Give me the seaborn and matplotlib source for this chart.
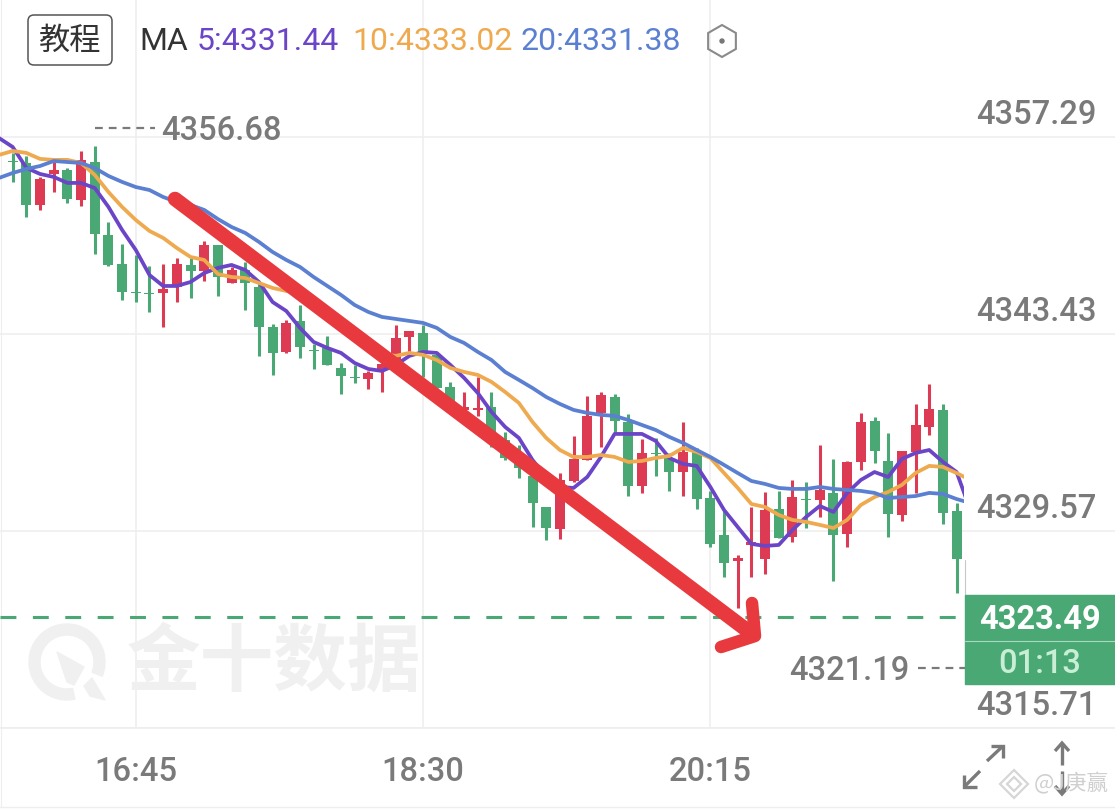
import numpy as np
import pandas as pd
import matplotlib
matplotlib.use("Agg")
import matplotlib.pyplot as plt
import matplotlib.patches as mpatches
from matplotlib.transforms import Affine2D, ScaledTranslation
import seaborn as sns

opens = [4355.61,4355.47,4352.51,4354.69,4354.97,4352.86,4355.54,4350.40,4348.36,4346.39,
         4346.32,4346.32,4346.74,4348.29,4347.87,4349.69,4347.02,4347.94,4346.74,4343.93,
         4342.17,4344.35,4342.31,4342.45,4341.04,4340.41,4340.27,4340.90,4341.39,4343.22,
         4343.50,4341.96,4339.70,4338.09,4338.09,4338.30,4335.98,4334.78,4333.44,4331.26,
         4329.71,4333.09,4334.57,4337.88,4339.00,4337.24,4332.74,4335.06,4334.71,4333.72,
         4335.13,4331.89,4329.29,4327.47,4328.59,4327.61,4331.12,4329.15,4331.82,4331.75,
         4332.25,4329.36,4334.43,4337.31,4334.50,4330.70,4335.13,4336.89,4338.09,4330.98]
closes = [4355.54,4352.51,4354.34,4354.97,4352.93,4355.68,4350.47,4348.29,4346.39,4346.32,
          4346.25,4346.60,4348.36,4347.87,4349.69,4347.44,4347.94,4347.02,4343.93,4342.10,
          4344.21,4342.52,4342.24,4341.25,4340.48,4340.34,4340.69,4341.32,4343.15,4343.64,
          4342.17,4339.63,4338.65,4338.30,4338.23,4336.47,4334.71,4334.01,4331.54,4329.78,
          4333.16,4334.64,4337.67,4339.14,4337.31,4332.74,4335.06,4334.99,4333.72,4335.13,
          4331.82,4328.66,4327.32,4327.68,4328.80,4331.05,4329.08,4331.96,4331.75,4332.46,
          4329.29,4334.43,4337.24,4335.20,4330.77,4335.20,4337.03,4338.16,4330.84,4327.61]
highs = [4356.17,4355.96,4354.48,4355.54,4355.12,4356.31,4356.68,4351.31,4349.76,4348.99,
         4348.22,4348.36,4348.78,4348.78,4349.98,4349.69,4348.15,4348.50,4347.02,4344.14,
         4344.42,4345.47,4342.73,4343.29,4341.39,4341.25,4340.83,4341.39,4344.07,4343.64,
         4344.07,4342.10,4340.06,4339.35,4340.41,4339.35,4336.54,4335.62,4334.08,4331.26,
         4333.65,4336.26,4339.07,4339.35,4339.21,4337.81,4336.05,4336.12,4335.06,4337.24,
         4335.41,4332.39,4331.05,4327.89,4331.26,4332.32,4332.39,4333.16,4333.02,4335.62,
         4334.64,4334.50,4337.88,4337.60,4336.47,4335.20,4338.51,4339.91,4338.51,4331.54]
lows = [4354.13,4351.66,4352.16,4353.42,4352.65,4352.44,4349.06,4348.22,4345.82,4345.68,
        4344.98,4343.93,4345.68,4345.96,4347.16,4346.11,4347.02,4345.12,4341.89,4340.55,
        4342.10,4341.74,4340.97,4341.25,4339.21,4339.98,4339.56,4339.35,4341.39,4342.10,
        4340.41,4339.63,4338.23,4337.95,4337.67,4335.48,4334.57,4333.30,4329.85,4328.94,
        4329.01,4333.02,4334.57,4335.48,4336.47,4332.04,4332.25,4333.44,4332.39,4332.04,
        4331.12,4328.45,4326.34,4324.16,4326.34,4326.55,4329.08,4328.80,4329.78,4330.56,
        4326.06,4328.45,4333.86,4334.36,4329.15,4330.28,4332.25,4336.33,4330.07,4325.21]

# moving averages: bar -1 (just off the left edge) to bar 70 (just past the last candle)
ma5 = [4357.22,4356.59,4355.12,4354.69,4354.48,4354.06,4354.06,4353.70,4352.37,4350.75,
       4349.34,4347.58,4346.81,4346.81,4347.09,4347.72,4348.08,4348.29,4347.94,4347.09,
       4345.68,4345.05,4343.86,4342.87,4342.45,4342.10,4341.39,4340.97,4340.83,4341.25,
       4341.89,4342.17,4342.10,4341.25,4340.34,4339.28,4337.95,4336.89,4336.12,4334.57,
       4333.37,4332.67,4332.60,4333.37,4334.78,4336.40,4336.40,4336.40,4335.91,4334.71,
       4334.29,4334.15,4332.67,4331.05,4329.85,4328.66,4328.52,4328.59,4329.64,4330.56,
       4331.33,4330.91,4332.25,4333.16,4333.72,4333.37,4334.64,4335.06,4335.27,4334.43,
       4333.72,4331.05]
ma10 = [4356.03,4356.31,4356.17,4355.75,4355.68,4355.68,4355.46,4354.62,4353.42,4352.37,
        4351.45,4350.68,4350.19,4349.48,4348.85,4348.64,4347.65,4347.44,4347.37,4347.02,
        4346.67,4346.46,4346.25,4345.54,4344.77,4344.00,4343.22,4342.59,4342.03,4341.89,
        4342.10,4341.96,4341.60,4341.04,4340.76,4340.55,4340.06,4339.35,4338.58,4337.24,
        4336.12,4335.27,4334.78,4334.78,4334.92,4334.78,4334.43,4334.50,4334.71,4334.85,
        4335.41,4335.13,4334.71,4333.65,4332.60,4331.47,4331.26,4330.70,4330.35,4330.21,
        4330.00,4329.78,4330.35,4331.40,4331.96,4332.32,4332.81,4333.65,4334.15,4334.08,
        4333.65,4333.16]
ma20 = [4354.41,4354.76,4355.04,4355.25,4355.60,4355.53,4355.46,4355.11,4354.55,4354.13,
        4353.77,4353.56,4353.07,4352.72,4352.51,4352.16,4351.52,4350.96,4350.54,4349.91,
        4349.20,4348.64,4348.15,4347.44,4346.81,4346.18,4345.47,4344.98,4344.63,4344.49,
        4344.35,4344.21,4343.86,4343.22,4342.80,4342.17,4341.60,4340.76,4340.20,4339.63,
        4339.00,4338.51,4338.09,4337.88,4337.74,4337.67,4337.38,4337.03,4336.68,4336.19,
        4335.77,4335.27,4334.78,4334.22,4333.65,4333.09,4332.88,4332.60,4332.53,4332.53,
        4332.67,4332.53,4332.46,4332.39,4332.25,4331.89,4331.96,4332.03,4332.25,4332.18,
        4331.82,4331.54]

price_ticks = [4357.29, 4343.43, 4329.57, 4315.71]
price_labels = ["4357.29", "4343.43", "4329.57", "4315.71"]
time_ticks = [9, 30, 51]
time_labels = ["16:45", "18:30", "20:15"]
last_price = 4323.49
high_label, low_label = "4356.68", "4321.19"
ma_names = ["MA5", "MA10", "MA20"]

GREEN, RED = "#4aa874", "#dc3b53"
PURPLE, ORANGE, BLUE = "#6b45c8", "#efa94e", "#5b80d2"
GRAY = "#7a7a7a"
GRID = "#eeeeee"
W, H = 1115, 809
NUM = 23.5
CJK = ["Noto Sans CJK SC", "DejaVu Sans"]

sns.set_theme(style="white")
plt.rcParams["font.family"] = ["Roboto", "Noto Sans CJK SC", "DejaVu Sans"]

fig = plt.figure(figsize=(W / 100, H / 100), dpi=100, facecolor="white")
ax = fig.add_axes([0, 1 - 728 / H, 1, 728 / H])
ax.set_xlim(-0.928, 80.58)
ax.set_ylim(4315.71, 4366.93)
# screen-pixel transform, for the chart furniture only
px = Affine2D().scale(1 / W, -1 / H).translate(0, 1) + fig.transFigure

idx = np.arange(len(opens))
df = pd.DataFrame({"i": idx, "open": opens, "high": highs, "low": lows, "close": closes})
df["up"] = df["close"] >= df["open"]
df["color"] = np.where(df["up"], RED, GREEN)
df["top"] = df[["open", "close"]].max(axis=1)
df["bot"] = df[["open", "close"]].min(axis=1)

ax.vlines(df["i"], df["low"], df["high"], colors=df["color"], lw=2.2, zorder=2)
ax.bar(df["i"], df["top"] - df["bot"], bottom=df["bot"], width=0.73,
       color=df["color"], linewidth=0, zorder=2)

ma_x = np.arange(-1, len(ma5) - 1)
long = pd.DataFrame({"i": np.tile(ma_x, 3),
                     "value": ma5 + ma10 + ma20,
                     "ma": np.repeat(ma_names, len(ma_x))})
sns.lineplot(data=long, x="i", y="value", hue="ma", hue_order=ma_names,
             palette=[PURPLE, ORANGE, BLUE], lw=2.7, legend=False,
             errorbar=None, ax=ax, zorder=3)
clip = mpatches.Rectangle((0, 0), 964, 728, transform=px)
for ln in ax.get_lines():
    ln.set_clip_path(clip)

ax.plot([-0.928, 69.5], [last_price, last_price], color=GREEN, lw=2.2,
        dashes=(5.2, 5.4), dash_capstyle="butt", zorder=4)

# axes
for s in ["top", "left", "right"]:
    ax.spines[s].set_visible(False)
ax.spines["bottom"].set_color(GRID)
ax.spines["bottom"].set_linewidth(1.2)
ax.set_xlabel("")
ax.set_ylabel("")
ax.set_xticks(time_ticks, time_labels)
ax.set_yticks(price_ticks, price_labels)
ax.yaxis.tick_right()
ax.grid(True, color=GRID, lw=1.1, zorder=0)
ax.set_axisbelow(True)
ax.tick_params(axis="x", length=0, pad=20, labelsize=NUM, labelcolor=GRAY)
ax.tick_params(axis="y", length=0, pad=-13, labelsize=NUM, labelcolor=GRAY)
for lab in ax.get_xticklabels():
    lab.set_fontweight("medium")
shift = ScaledTranslation(0, 22 / 100, fig.dpi_scale_trans)
for lab in ax.get_yticklabels():
    lab.set_fontweight("medium")
    lab.set_ha("right")
    lab.set_va("center")
    lab.set_transform(lab.get_transform() + shift)


def text(x, y, s, **kw):
    kw.setdefault("ha", "left")
    kw.setdefault("va", "center")
    kw.setdefault("clip_on", False)
    return ax.text(x, y, s, transform=px, **kw)


def stroke(xs, ys, **kw):
    kw.setdefault("clip_on", False)
    kw.setdefault("solid_capstyle", "round")
    kw.setdefault("solid_joinstyle", "round")
    ax.plot(xs, ys, transform=px, **kw)


# frame lines
stroke([1, 1], [0, 807], color=GRID, lw=0.8, zorder=1)
stroke([0, W], [807, 807], color=GRID, lw=1, zorder=1)

# watermark
wm = "#f0f0f0"
text(127, 664, "金十数据", family=CJK, weight="bold", fontsize=53, color=wm, zorder=1)
ax.add_patch(mpatches.Wedge((67, 662), 38, 78, 382, width=11, transform=px, color=wm,
                            clip_on=False, zorder=1))
ax.add_patch(mpatches.Polygon([(57, 652), (84, 667), (74, 685), (67, 682)], transform=px,
                              color=wm, clip_on=False, zorder=1))
ax.add_patch(mpatches.Polygon([(84, 686), (92, 678), (105, 700), (90, 696)], transform=px,
                              color=wm, clip_on=False, zorder=1))

# red arrow
RA = "#e83a3e"
stroke([175, 752], [199, 634], color=RA, lw=10.5, zorder=6)
stroke([752, 755, 721], [603, 636, 647], color=RA, lw=9, zorder=6)

# header
ax.add_patch(mpatches.FancyBboxPatch((33, 20), 74, 40, boxstyle="round,pad=5,rounding_size=6",
                                     transform=px, fc="white", ec="#555555", lw=1.1,
                                     clip_on=False, zorder=5))
text(70, 41, "教程", family=CJK, fontsize=22.5, color="#333333", ha="center", zorder=6)
text(139, 41, "MA", fontsize=23, color="#333333")
text(197, 41, "5:4331.44", fontsize=23, color=PURPLE)
text(352, 41, "10:4333.02", fontsize=23, color=ORANGE)
text(520, 41, "20:4331.38", fontsize=23, color=BLUE)
ax.add_patch(mpatches.RegularPolygon((722, 41), 6, radius=16, transform=px, fc="none",
                                     ec="#8a8a8a", lw=1.5, clip_on=False))
ax.add_patch(mpatches.Circle((722, 41), 2, transform=px, color="#777777", clip_on=False))

# high / low markers
text(161, 131, high_label, fontsize=NUM, fontweight="medium", color=GRAY)
stroke([95, 155], [128, 128], color=GRAY, lw=1.6, dashes=(3.5, 2.7), dash_capstyle="butt")
text(789, 671, low_label, fontsize=NUM, fontweight="medium", color=GRAY)
stroke([918, 965], [668, 668], color=GRAY, lw=1.6, dashes=(3.5, 2.7), dash_capstyle="butt")

# price tag
stroke([964.5, 964.5], [560, 595], color="#c8c8c8", lw=0.8, zorder=2)
ax.add_patch(mpatches.Rectangle((965, 595), 150, 89, transform=px, color=GREEN, clip_on=False, zorder=7))
stroke([965, W], [641, 641], color="#a8dcc0", lw=0.8, zorder=8)
text(1040, 620, f"{last_price:.2f}", fontsize=NUM, weight="bold", color="white",
     ha="center", zorder=8)
text(1040, 664, "01:13", fontsize=NUM, fontweight="medium", color="#c9eed6", ha="center", zorder=8)

# corner icons
ic = dict(color=GRAY, lw=2.4, solid_capstyle="butt", solid_joinstyle="miter")
stroke([980, 964], [771, 787], **ic)
stroke([964, 964, 977], [775, 787, 787], **ic)
stroke([987, 1003], [761, 746], **ic)
stroke([991, 1003, 1003], [746, 746, 758], **ic)
stroke([1062, 1062], [765, 743], **ic)
stroke([1055, 1062, 1069], [751, 743, 751], **ic)
stroke([1062, 1062], [771, 793], **ic)
stroke([1055, 1062, 1069], [786, 794, 786], **ic)

# repost mark
mk = "#d6d6d6"
for r, c in [(14, mk), (7, mk)]:
    ax.add_patch(mpatches.RegularPolygon((1014, 784), 4, radius=r, transform=px, fc="none", ec=c,
                                         lw=1.6, clip_on=False, zorder=8))
text(1034, 784, "@J庚赢", family=CJK, fontsize=15.5, color="#cfcfcf", zorder=8)

fig.savefig("out.png", dpi=100, facecolor="white")
